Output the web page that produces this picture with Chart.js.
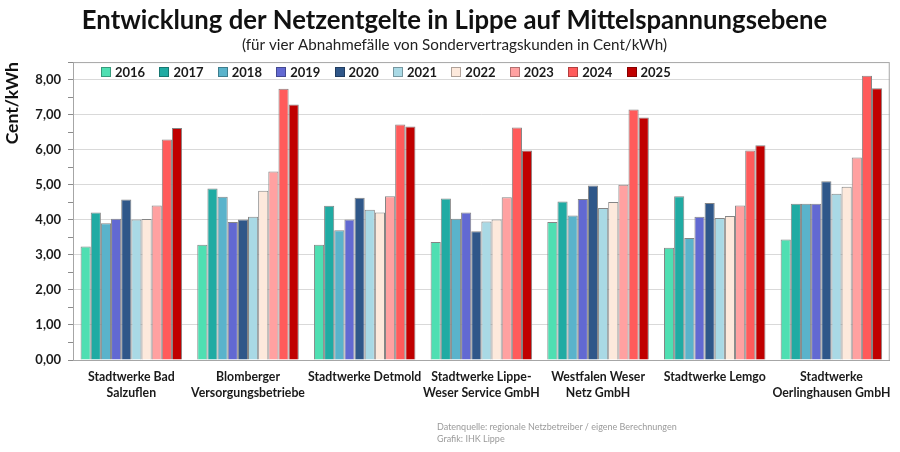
<!DOCTYPE html>
<html lang="de">
<head>
<meta charset="utf-8">
<title>Netzentgelte Lippe</title>
<script src="https://cdn.jsdelivr.net/npm/chart.js@4.4.1/dist/chart.umd.min.js"></script>
<style>
  html, body { margin: 0; padding: 0; background: #fff; }
  #wrap { position: relative; width: 900px; height: 452px; }
  #legend { position: absolute; left: 101px; top: 64px; display: flex; font: bold 13px Lato, sans-serif; color: #1a1a1a; }
  #legend .item { width: 58.4px; display: flex; align-items: center; white-space: nowrap; }
  #legend .box { width: 8px; height: 8px; margin-right: 4px; border: 1px solid rgba(0,0,0,0.3); }
  #footer { position: absolute; left: 437px; top: 421px; font: 9px Lato, sans-serif; color: #9a9a9a; line-height: 12px; }
</style>
</head>
<body>
<div id="wrap">
  <canvas id="netzChart" width="900" height="452"></canvas>
  <div id="legend"></div>
  <div id="footer"></div>
</div>
<script>
// === DATA ===
const companies = [
    ['Stadtwerke Bad', 'Salzuflen'],
    ['Blomberger', 'Versorgungsbetriebe'],
    'Stadtwerke Detmold',
    ['Stadtwerke Lippe-', 'Weser Service GmbH'],
    ['Westfalen Weser', 'Netz GmbH'],
    'Stadtwerke Lemgo',
    ['Stadtwerke', 'Oerlinghausen GmbH'],
];

const years = ['2016', '2017', '2018', '2019', '2020', '2021', '2022', '2023', '2024', '2025'];

const v2016 = [3.24, 3.29, 3.29, 3.37, 3.94, 3.20, 3.44];
const v2017 = [4.21, 4.89, 4.40, 4.61, 4.52, 4.67, 4.46];
const v2018 = [3.90, 4.66, 3.70, 4.03, 4.12, 3.48, 4.46];
const v2019 = [4.03, 3.94, 4.01, 4.21, 4.59, 4.09, 4.46];
const v2020 = [4.58, 4.01, 4.63, 3.67, 4.98, 4.48, 5.10];
const v2021 = [4.01, 4.09, 4.29, 3.95, 4.34, 4.05, 4.74];
const v2022 = [4.02, 4.83, 4.21, 4.01, 4.51, 4.11, 4.94];
const v2023 = [4.41, 5.38, 4.67, 4.64, 5.00, 4.41, 5.78];
const v2024 = [6.29, 7.74, 6.72, 6.63, 7.15, 5.98, 8.11];
const v2025 = [6.62, 7.29, 6.66, 5.98, 6.92, 6.13, 7.75];

const yTickLabels = ['0,00', '1,00', '2,00', '3,00', '4,00', '5,00', '6,00', '7,00', '8,00'];

const footerLines = ['Datenquelle: regionale Netzbetreiber / eigene Berechnungen', 'Grafik: IHK Lippe'];

const seriesValues = [v2016, v2017, v2018, v2019, v2020, v2021, v2022, v2023, v2024, v2025];
const yearColors = ['#4fdfb2', '#20aba3', '#5ab3cb', '#6269d2', '#2f5789', '#a9d9e5', '#fde9dc', '#ffa1a1', '#ff5b5b', '#c00000'];

// === PLUGINS ===
const plotFrame = {
    id: 'plotFrame',
    afterDatasetsDraw(chart) {
        const { ctx, chartArea: a } = chart;
        ctx.save();
        ctx.strokeStyle = '#a6a6a6';
        ctx.lineWidth = 1;
        ctx.strokeRect(a.left + 0.5, a.top + 0.5, a.right - a.left - 1, a.bottom - a.top);
        ctx.restore();
    }
};

function renderLegend(chart) {
    const el = document.getElementById('legend');
    el.innerHTML = chart.data.datasets.map(ds => `
        <div class="item"><span class="box" style="background:${ds.backgroundColor};"></span>${ds.label}</div>
    `).join('');
}

function renderFooter() {
    document.getElementById('footer').innerHTML = footerLines.map(l => `<div>${l}</div>`).join('');
}

// === CHART ===
function createChart() {
    const ctx = document.getElementById('netzChart').getContext('2d');
    const chart = new Chart(ctx, {
        type: 'bar',
        data: {
            labels: companies,
            datasets: years.map((y, i) => ({
                label: y,
                data: seriesValues[i],
                backgroundColor: yearColors[i],
                borderColor: '#858585',
                borderWidth: 1,
                categoryPercentage: 0.87,
                barPercentage: 1.0,
            }))
        },
        options: {
            responsive: false,
            animation: false,
            // left padding shifts the centred title to match the original
            layout: { padding: { left: 17, right: 8, top: 0, bottom: 0 } },
            plugins: {
                legend: { display: false },
                tooltip: { enabled: false },
                title: {
                    display: true,
                    text: 'Entwicklung der Netzentgelte in Lippe auf Mittelspannungsebene',
                    color: '#111',
                    font: { family: 'Lato', size: 25.7, weight: 'bold' },
                    padding: { top: 5, bottom: 0 },
                },
                subtitle: {
                    display: true,
                    text: '(für vier Abnahmefälle von Sondervertragskunden in Cent/kWh)',
                    color: '#222',
                    font: { family: 'Lato', size: 15.2 },
                    padding: { top: 0, bottom: 8 },
                }
            },
            scales: {
                x: {
                    grid: { color: 'transparent', drawTicks: false },
                    border: { color: '#8c8c8c' },
                    ticks: {
                        color: '#1a1a1a',
                        padding: 9,
                        maxRotation: 0,
                        autoSkip: false,
                        font: { family: 'Lato', size: 12.3, weight: 'bold', lineHeight: 1.3 },
                    },
                    afterFit(scale) { scale.height = 92; }
                },
                y: {
                    min: 0,
                    max: 8.5,
                    grid: {
                        color: c => (Number.isInteger(c.tick.value) && c.tick.value > 0) ? '#d9d9d9' : 'transparent',
                        tickColor: '#8c8c8c',
                        tickLength: 5,
                    },
                    border: { color: '#8c8c8c' },
                    ticks: {
                        stepSize: 0.5,
                        autoSkip: false,
                        padding: 7,
                        color: '#1a1a1a',
                        font: { family: 'Lato', size: 13, weight: 'bold' },
                        callback: v => Number.isInteger(v) ? yTickLabels[v] : '',
                    },
                    title: {
                        display: true,
                        text: 'Cent/kWh',
                        align: 'end',
                        color: '#111',
                        font: { family: 'Lato', size: 17.5, weight: 'bold' },
                        padding: { top: -15, bottom: 0 },
                    },
                    afterFit(scale) { scale.width = 56; }
                }
            }
        },
        plugins: [plotFrame]
    });
    renderLegend(chart);
    renderFooter();
    return chart;
}

document.addEventListener('DOMContentLoaded', createChart);
</script>
</body>
</html>
